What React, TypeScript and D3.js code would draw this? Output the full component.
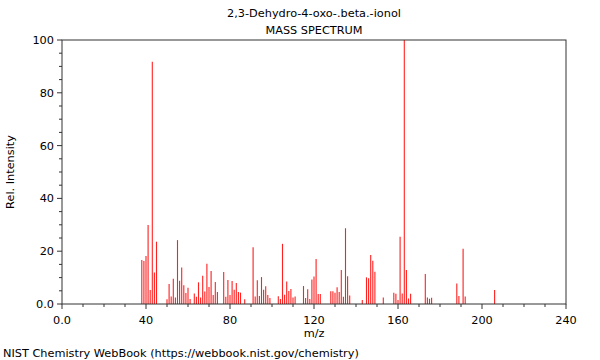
import React from "react";
import * as d3 from "d3";

const mz = [38, 39, 40, 41, 42, 43, 44, 45,
  50, 51, 52, 53, 54, 55, 56, 57, 58, 59, 60, 61,
  63, 64, 65, 66, 67, 68, 69, 70, 71, 72, 73, 74,
  77, 78, 79, 80, 81, 82, 83, 84, 85, 87,
  91, 92, 93, 94, 95, 96, 97, 98, 99,
  103, 104, 105, 106, 107, 108, 109, 110, 111,
  115, 116, 117, 118, 119, 120, 121, 122, 123,
  128, 129, 130, 131, 132, 133, 134, 135, 136, 137,
  143, 145, 146, 147, 148, 149, 153,
  158, 159, 160, 161, 162, 163, 164, 165, 166,
  173, 174, 175, 176, 188, 189, 191, 192, 206];
const intensity = [16.7, 16.3, 18.2, 29.9, 5.3, 91.8, 11.9, 23.6,
  1.8, 7.6, 2.8, 9.6, 2.5, 24.2, 8.8, 13.8, 7.1, 4.2, 6.2, 1.9,
  4.0, 2.7, 8.2, 2.5, 10.7, 4.7, 15.2, 6.4, 12.5, 3.4, 8.3, 4.5,
  12.1, 2.7, 9.1, 3.4, 8.7, 5.4, 8.0, 4.5, 4.3, 1.8,
  21.5, 2.8, 9.0, 3.0, 10.2, 5.4, 6.7, 3.4, 2.3,
  2.9, 1.9, 22.8, 3.5, 8.5, 4.9, 5.7, 2.5, 2.8,
  6.8, 2.3, 5.6, 1.9, 9.3, 10.4, 17.0, 3.8, 3.8,
  4.8, 4.8, 4.3, 6.3, 4.5, 12.9, 2.7, 28.7, 10.5, 3.2,
  1.5, 10.1, 9.8, 18.6, 16.4, 12.2, 2.5,
  4.3, 3.9, 1.5, 25.5, 4.0, 100, 12.9, 2.1, 3.9,
  11.4, 2.5, 2.0, 2.4, 7.8, 3.0, 20.9, 2.8, 5.3];

const xMajor = [0, 40, 80, 120, 160, 200, 240];
const xMajorLabels = ["0.0", "40", "80", "120", "160", "200", "240"];
const yMajor = [0, 20, 40, 60, 80, 100];
const yMajorLabels = ["0.0", "20", "40", "60", "80", "100"];

const title = "2,3-Dehydro-4-oxo-.beta.-ionol";
const subtitle = "MASS SPECTRUM";
const xTitle = "m/z";
const yTitle = "Rel. Intensity";
const footer = "NIST Chemistry WebBook (https://webbook.nist.gov/chemistry)";

export default function App() {
  const W = 600, H = 360;
  const L = 62, R = 566, T = 40, B = 304;
  const x = d3.scaleLinear().domain([0, 240]).range([L, R]);
  const y = d3.scaleLinear().domain([0, 100]).range([B, T]);
  const font = "DejaVu Sans, sans-serif";
  const fs = 11.3;
  const axisColor = "#333";
  const xMinor = d3.range(0, 241, 10);
  const yMinor = d3.range(0, 101, 5);

  return (
    <svg width={W} height={H} style={{ position: "absolute", left: 0, top: 0, background: "#fff" }}
      fontFamily={font}>
      <rect x={0} y={0} width={W} height={H} fill="#fff" />
      <text x={(L + R) / 2} y={17} textAnchor="middle" fontSize={fs}>{title}</text>
      <text x={(L + R) / 2} y={34} textAnchor="middle" fontSize={fs}>{subtitle}</text>

      {mz.map((m, i) => (
        <line key={"b" + i} x1={x(m)} x2={x(m)} y1={y(0)} y2={y(intensity[i])}
          stroke="#ff2020" strokeWidth={1.1} />
      ))}

      <rect x={L} y={T} width={R - L} height={B - T} fill="none" stroke={axisColor} strokeWidth={1} />

      {xMinor.map((v) => (
        <line key={"xm" + v} x1={x(v)} x2={x(v)} y1={B} y2={B + (v % 40 === 0 ? 5 : 3)} stroke={axisColor} />
      ))}
      {yMinor.map((v) => (
        <line key={"ym" + v} x1={L} x2={L - (v % 20 === 0 ? 5 : 3)} y1={y(v)} y2={y(v)} stroke={axisColor} />
      ))}
      {xMajor.map((v, i) => (
        <text key={"xl" + v} x={x(v)} y={324} textAnchor="middle" fontSize={fs}>{xMajorLabels[i]}</text>
      ))}
      {yMajor.map((v, i) => (
        <text key={"yl" + v} x={L - 8} y={y(v) + 4} textAnchor="end" fontSize={fs}>{yMajorLabels[i]}</text>
      ))}
      <text x={(L + R) / 2} y={337} textAnchor="middle" fontSize={fs}>{xTitle}</text>
      <text transform={`translate(14,${(T + B) / 2}) rotate(-90)`} textAnchor="middle" fontSize={fs}>{yTitle}</text>
      <text x={3} y={357} fontSize={fs}>{footer}</text>
    </svg>
  );
}
